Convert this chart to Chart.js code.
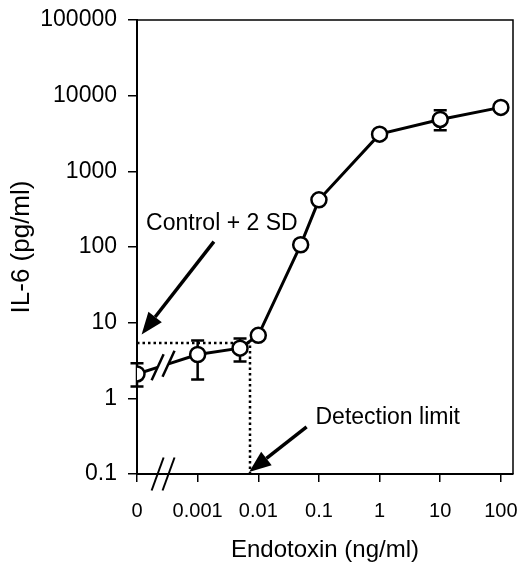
<!DOCTYPE html>
<html>
<head>
<meta charset="utf-8">
<script src="https://cdn.jsdelivr.net/npm/chart.js@4.4.1/dist/chart.umd.min.js"></script>
<style>
  html, body { margin: 0; padding: 0; background: #fff; }
  #wrap { width: 523px; height: 562px; }
</style>
</head>
<body>
<div id="wrap"><canvas id="il6-chart" width="523" height="562"></canvas></div>
<script>
// endotoxin dose (ng/ml) and IL-6 response (pg/ml)
const doses = [0, 0.001, 0.005, 0.01, 0.05, 0.1, 1, 10, 100];
const il6 = [2.1, 3.8, 4.6, 6.8, 107, 420, 3100, 4850, 7000];
const il6High = [2.9, 5.8, 6.2, null, null, null, null, 6400, null];
const il6Low = [1.43, 1.77, 3.07, null, null, null, null, 3480, null];

const xTickValues = [0, 0.001, 0.01, 0.1, 1, 10, 100];
const xTickLabels = ["0", "0.001", "0.01", "0.1", "1", "10", "100"];
const yTickValues = [0.1, 1, 10, 100, 1000, 10000, 100000];
const yTickLabels = ["0.1", "1", "10", "100", "1000", "10000", "100000"];

const controlPlus2SD = 5.4;
const detectionLimit = 0.0073;

// the zero dose sits one decade left of 0.001, behind an axis break
const ZERO_POS = -4;
const breakPos = [-3.66, -3.48];

// annotations in axis units: x = log10(dose) position, y = IL-6
const notes = [
    { text: "Control + 2 SD", at: [-3.85, 203], from: [-2.732, 118], to: [-3.924, 7.0] },
    { text: "Detection limit", at: [-1.057, 0.56], from: [-1.203, 0.42], to: [-2.151, 0.106] },
];

const FONT = "'Liberation Sans', Arial, Helvetica, sans-serif";

function xPos(dose) {
    return dose === 0 ? ZERO_POS : Math.log10(dose);
}

function slash(ctx, cx, cy, dx, dy) {
    ctx.beginPath();
    ctx.moveTo(cx - dx, cy + dy);
    ctx.lineTo(cx + dx, cy - dy);
    ctx.stroke();
}

function arrow(ctx, x0, y0, x1, y1) {
    const ang = Math.atan2(y1 - y0, x1 - x0);
    const headLen = 22;
    const headHalf = 8.5;
    const bx = x1 - headLen * Math.cos(ang);
    const by = y1 - headLen * Math.sin(ang);
    ctx.beginPath();
    ctx.moveTo(x0, y0);
    ctx.lineTo(bx, by);
    ctx.stroke();
    ctx.beginPath();
    ctx.moveTo(x1, y1);
    ctx.lineTo(bx + headHalf * Math.sin(ang), by - headHalf * Math.cos(ang));
    ctx.lineTo(bx - headHalf * Math.sin(ang), by + headHalf * Math.cos(ang));
    ctx.closePath();
    ctx.fill();
}

const extras = {
    id: "extras",
    beforeDatasetsDraw(chart) {
        const ctx = chart.ctx;
        const xs = chart.scales.x;
        const ys = chart.scales.y;
        ctx.save();
        ctx.strokeStyle = "#000";
        ctx.lineCap = "butt";

        // error bars, under the markers
        ctx.lineWidth = 2.5;
        doses.forEach((d, i) => {
            if (il6High[i] === null) {
                return;
            }
            const px = xs.getPixelForValue(xPos(d));
            const top = ys.getPixelForValue(il6High[i]);
            const bot = ys.getPixelForValue(il6Low[i]);
            ctx.beginPath();
            ctx.moveTo(px, top);
            ctx.lineTo(px, bot);
            ctx.moveTo(px - 6.5, top);
            ctx.lineTo(px + 6.5, top);
            ctx.moveTo(px - 6.5, bot);
            ctx.lineTo(px + 6.5, bot);
            ctx.stroke();
        });

        // broken first segment between 0 and 0.001
        const ax = xs.getPixelForValue(xPos(doses[0]));
        const ay = ys.getPixelForValue(il6[0]);
        const bx = xs.getPixelForValue(xPos(doses[1]));
        const by = ys.getPixelForValue(il6[1]);
        const cut = breakPos.map((p) => {
            const px = xs.getPixelForValue(p);
            return [px, ay + ((px - ax) / (bx - ax)) * (by - ay)];
        });
        ctx.lineWidth = 3;
        ctx.beginPath();
        ctx.moveTo(ax, ay);
        ctx.lineTo(cut[0][0], cut[0][1]);
        ctx.moveTo(cut[1][0], cut[1][1]);
        ctx.lineTo(bx, by);
        ctx.stroke();
        ctx.lineWidth = 2.5;
        cut.forEach(([cx, cy]) => slash(ctx, cx, cy, 6, 13));
        ctx.restore();
    },
    afterDatasetsDraw(chart) {
        const ctx = chart.ctx;
        const xs = chart.scales.x;
        const ys = chart.scales.y;
        const area = chart.chartArea;
        ctx.save();
        ctx.strokeStyle = "#000";
        ctx.fillStyle = "#000";

        // top and right frame
        ctx.lineWidth = 1.5;
        ctx.beginPath();
        ctx.moveTo(area.left, area.top);
        ctx.lineTo(area.right, area.top);
        ctx.lineTo(area.right, area.bottom);
        ctx.stroke();

        // axis break on x
        ctx.lineWidth = 2;
        breakPos.forEach((p) => slash(ctx, xs.getPixelForValue(p), area.bottom, 6, 16.5));

        // arrows and labels
        ctx.lineWidth = 3.5;
        ctx.font = "23px " + FONT;
        ctx.textAlign = "left";
        ctx.textBaseline = "middle";
        notes.forEach((n) => {
            arrow(
                ctx,
                xs.getPixelForValue(n.from[0]),
                ys.getPixelForValue(n.from[1]),
                xs.getPixelForValue(n.to[0]),
                ys.getPixelForValue(n.to[1])
            );
            ctx.fillText(n.text, xs.getPixelForValue(n.at[0]), ys.getPixelForValue(n.at[1]));
        });
        ctx.restore();
    },
};

const points = doses.map((d, i) => ({ x: xPos(d), y: il6[i] }));
const guide = [
    { x: xPos(0), y: controlPlus2SD },
    { x: xPos(detectionLimit), y: controlPlus2SD },
    { x: xPos(detectionLimit), y: yTickValues[0] },
];

new Chart(document.getElementById("il6-chart").getContext("2d"), {
    type: "scatter",
    data: {
        datasets: [
            {
                data: points,
                showLine: true,
                borderColor: "#000",
                borderWidth: 3,
                pointRadius: 7.5,
                pointHoverRadius: 7.5,
                pointBackgroundColor: "#fff",
                pointBorderColor: "#000",
                pointBorderWidth: 2.5,
                segment: {
                    borderColor: (c) => (c.p0DataIndex === 0 ? "rgba(0,0,0,0)" : undefined),
                },
                order: 1,
            },
            {
                data: guide,
                showLine: true,
                borderColor: "#000",
                borderWidth: 2.5,
                borderDash: [2.5, 3],
                pointRadius: 0,
                pointHoverRadius: 0,
                order: 2,
            },
        ],
    },
    options: {
        responsive: false,
        animation: false,
        layout: { padding: { top: 20, right: 5, left: 0, bottom: 0 } },
        plugins: {
            legend: { display: false },
            tooltip: { enabled: false },
        },
        scales: {
            x: {
                type: "linear",
                min: ZERO_POS,
                max: 2.2,
                afterBuildTicks: (s) => {
                    s.ticks = xTickValues.map((v) => ({ value: xPos(v) }));
                },
                afterFit: (s) => {
                    s.height = 88;
                    s.paddingLeft = 0;
                    s.paddingRight = 0;
                },
                ticks: {
                    callback: (v, i) => xTickLabels[i],
                    font: { family: FONT, size: 20 },
                    color: "#000",
                    padding: 17,
                    maxRotation: 0,
                    autoSkip: false,
                },
                grid: { drawOnChartArea: false, tickLength: 8, color: "#000", lineWidth: 1.5 },
                border: { color: "#000", width: 2 },
                title: {
                    display: true,
                    text: "Endotoxin (ng/ml)",
                    color: "#000",
                    font: { family: FONT, size: 24, lineHeight: 1 },
                    padding: 0,
                },
            },
            y: {
                type: "logarithmic",
                min: yTickValues[0],
                max: yTickValues[yTickValues.length - 1],
                afterBuildTicks: (s) => {
                    s.ticks = yTickValues.map((v) => ({ value: v, major: true }));
                },
                afterFit: (s) => {
                    s.width = 137;
                    s.paddingTop = 0;
                    s.paddingBottom = 0;
                },
                ticks: {
                    callback: (v, i) => yTickLabels[i],
                    font: { family: FONT, size: 23 },
                    color: "#000",
                    padding: 11,
                    autoSkip: false,
                },
                grid: { drawOnChartArea: false, tickLength: 9, color: "#000", lineWidth: 1.5 },
                border: { color: "#000", width: 2 },
                title: {
                    display: true,
                    text: "IL-6 (pg/ml)",
                    color: "#000",
                    font: { family: FONT, size: 26 },
                    padding: { top: 6, bottom: 0 },
                },
            },
        },
    },
    plugins: [extras],
});
</script>
</body>
</html>
